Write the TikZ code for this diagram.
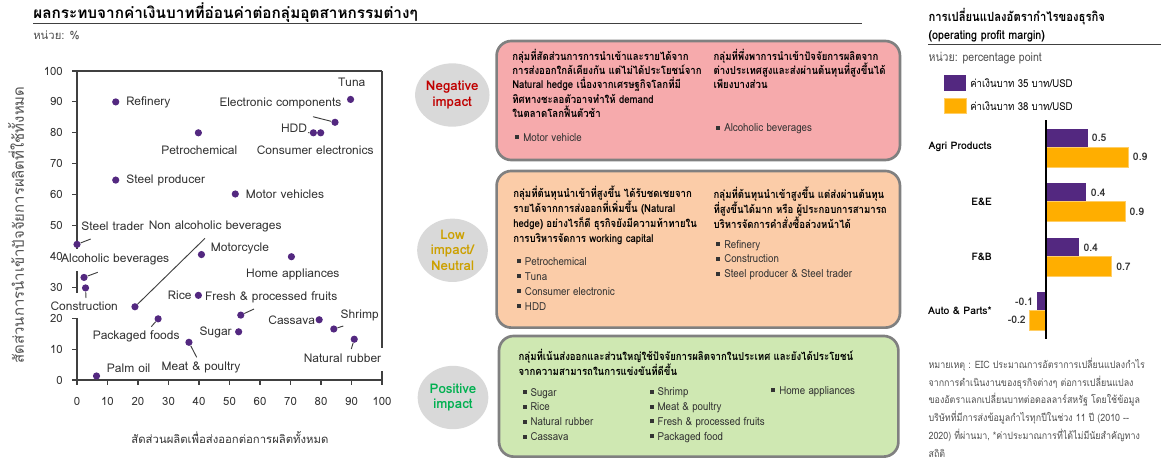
\documentclass[tikz,border=0pt]{standalone}
\usepackage{fontspec}
\setmainfont[Script=Thai]{Loma}
\newfontfamily\thc[Script=Thai,FakeStretch=0.88]{Loma}
\usetikzlibrary{shapes.geometric}
\definecolor{dotpurple}{RGB}{83,40,128}
\definecolor{barorange}{RGB}{255,174,0}
\definecolor{negfill}{RGB}{246,170,172}
\definecolor{lowfill}{RGB}{251,204,168}
\definecolor{posfill}{RGB}{207,232,178}
\definecolor{boxgray}{RGB}{128,128,128}
\definecolor{ellgray}{RGB}{217,217,217}
\definecolor{negred}{RGB}{192,0,0}
\definecolor{lowgold}{RGB}{204,160,0}
\definecolor{posgreen}{RGB}{0,176,80}
\definecolor{txtgray}{RGB}{51,51,51}
\definecolor{axgray}{RGB}{64,64,64}
\definecolor{notegray}{RGB}{80,80,80}
\newcommand{\sqb}{\raisebox{1.6pt}{\rule{3pt}{3pt}}\hspace{3pt}}
\lineskiplimit=-20pt\relax
\lineskip=0pt\relax
\begin{document}
\begin{tikzpicture}[x=0.75pt,y=-0.75pt,
  dot/.style={circle,fill=dotpurple,draw=none,inner sep=0pt,minimum size=5.4pt},
  lab/.style={inner sep=0pt,font=\fontsize{9}{10}\selectfont,text=txtgray},
  leader/.style={draw=axgray,line width=0.7pt},
  axisline/.style={draw=axgray,line width=0.8pt},
  ticklab/.style={inner sep=0pt,font=\fontsize{8.5}{10}\selectfont,text=txtgray},
  impact/.style={ellipse,fill=ellgray,draw=none,minimum width=53pt,minimum height=47.5pt,inner sep=0pt,align=center,font=\bfseries\fontsize{10}{11.5}\selectfont},
  groupbox/.style={draw=boxgray,line width=2pt,rounded corners=11pt,inner sep=0pt},
  head/.style={inner sep=0pt,anchor=west,align=left,text=black,font=\thc\bfseries\fontsize{8.2}{10.6}\selectfont},
  headw/.style={inner sep=0pt,anchor=west,align=left,text=black,font=\thc\bfseries\fontsize{8.2}{11.25}\selectfont},
  items/.style={inner sep=0pt,anchor=west,align=left,text=txtgray,font=\thc\fontsize{8.3}{11.2}\selectfont},
  rlab/.style={inner sep=0pt,font=\bfseries\fontsize{7.8}{9}\selectfont,text=black},
  vlab/.style={inner sep=0pt,font=\bfseries\fontsize{7.8}{9}\selectfont,text=txtgray}
]
\useasboundingbox (0,0) rectangle (1161,461);

% ---------- left chart ----------
\node (title) [anchor=west,inner sep=0pt,font=\bfseries\fontsize{11.5}{13}\selectfont] at (33,13) {ผลกระทบจากค่าเงินบาทที่อ่อนค่าต่อกลุ่มอุตสาหกรรมต่างๆ};
\coordinate (tlineA) at (33,23.5);
\coordinate (tlineB) at (862,23.5);
\draw[axgray,line width=0.8pt] (tlineA) -- (tlineB);
\node (unit) [anchor=west,inner sep=0pt,font=\fontsize{8.5}{10}\selectfont,text=notegray] at (33,35) {หน่วย: \%};

\begin{scope}[shift={(77,380)},x=2.2875pt,y=2.3175pt]
  \draw[axisline] (0,0) -- (100,0);
  \draw[axisline] (0,100) -- (100,100);
  \draw[axisline] (0,0) -- (0,20.1);
  \draw[axisline] (0,28.2) -- (0,35.3);
  \draw[axisline] (0,42.5) -- (0,100);
  \draw[axisline] (100,100) -- (100,10.4);
  \draw[axisline] (100,2.9) -- (100,0);
\end{scope}

\foreach \v in {0,10,20,30,50,60,70,80,90,100}{
  \draw[axisline] (72,{380-3.09*\v}) -- (77,{380-3.09*\v});
}
\foreach \v in {0,10,...,100}{
  \node[ticklab,anchor=east] (yt\v) at (63,{380-3.09*\v}) {\v};
  \draw[axisline] ({77+3.05*\v},380) -- ({77+3.05*\v},385);
  \node[ticklab] (xt\v) at ({77+3.05*\v},401.7) {\v};
}

\node[ticklab,rotate=90,text=notegray,font=\fontsize{11.2}{12}\selectfont] (ylab) at (16,225) {สัดส่วนการนำเข้าปัจจัยการผลิตที่ใช้ทั้งหมด};
\node[ticklab] (xlab) at (230,437.3) {สัดส่วนผลิตเพื่อส่งออกต่อการผลิตทั้งหมด};

% labels
\node[lab,anchor=west] (refineryL) at (126,102.7) {Refinery};
\node[lab] (petroL) at (199.3,150.7) {Petrochemical};
\node[lab] (eleccompL) at (280.5,103.3) {Electronic components};
\node[lab] (tunaL) at (351.7,82.7) {Tuna};
\node[lab] (hddL) at (294,128.3) {HDD};
\node[lab] (consL) at (315.2,150.7) {Consumer electronics};
\node[lab,anchor=west] (steelprodL) at (126,180) {Steel producer};
\node[lab,anchor=west] (motorvL) at (245.7,194) {Motor vehicles};
\node[lab,anchor=west] (steeltrL) at (81,226) {Steel trader};
\node[lab] (nonalcL) at (215.2,226) {Non alcoholic beverages};
\node[lab,anchor=west] (motorcL) at (210.7,248.7) {Motorcycle};
\node[lab] (homeL) at (292.8,274) {Home appliances};
\node[lab] (alcL) at (115.2,259.3) {Alcoholic beverages};
\node[lab] (constrL) at (84.2,306.7) {Construction};
\node[lab] (riceL) at (179.7,295.3) {Rice};
\node[lab] (freshL) at (271.2,297.3) {Fresh \& processed fruits};
\node[lab] (cassavaL) at (291.7,320) {Cassava};
\node[lab] (shrimpL) at (359.7,315) {Shrimp};
\node[lab] (packL) at (136.2,336) {Packaged foods};
\node[lab] (sugarL) at (215.7,332.3) {Sugar};
\node[lab] (meatL) at (201,367.3) {Meat \& poultry};
\node[lab] (rubberL) at (342.5,358.3) {Natural rubber};
\node[lab,anchor=west] (palmL) at (106.7,368.3) {Palm oil};

\begin{scope}[shift={(77,380)},x=2.2875pt,y=2.3175pt]
  \foreach \nm/\xx/\yy in {refinery/12.7/90, petro/39.8/80, hdd/77.5/80, cons/79.9/80,
     eleccomp/84.6/83.4, tuna/89.7/90.8, steelprod/12.7/64.7, motorv/51.9/60.2,
     steeltr/0/43.9, alc/2.3/33.2, constr/2.8/29.8, nonalc/19.0/23.7, motorc/40.8/40.6,
     home/70.3/39.9, rice/39.8/27.4, fresh/53.7/21, pack/26.6/19.8, sugar/53.0/15.6,
     meat/36.7/12.2, cassava/79.4/19.5, shrimp/84.2/16.5, rubber/90.9/13.2, palm/6.4/1.3}{
    \node[dot] (\nm) at (\xx,\yy) {};
  }
\end{scope}

% leaders
\coordinate (eleccompT) at (313,116.7);
\coordinate (hddT) at (308,132.7);
\coordinate (steeltrT) at (90.7,239);
\coordinate (nonalcT) at (205,238.3);
\coordinate (alcT) at (97.7,272.3);
\coordinate (constrT) at (86,298);
\coordinate (freshT) at (254,309);
\coordinate (shrimpT) at (343.3,326);
\coordinate (packT) at (151.3,326.7);
\coordinate (meatT) at (196.7,357.3);
\coordinate (rubberT) at (351.3,349);
\foreach \nm in {eleccomp,hdd,steeltr,nonalc,alc,constr,fresh,shrimp,pack,meat,rubber}{
  \draw[leader] (\nm) -- (\nm T);
}

% ---------- middle ----------
\node[impact,text=negred] (negE) at (452.3,95) {Negative\\impact};
\node[impact,text=lowgold] (lowE) at (452.5,250.3) {Low\\impact/\\Neutral};
\node[impact,text=posgreen] (posE) at (453,397.5) {Positive\\impact};

\node[groupbox,fill=negfill,minimum width=302.5pt,minimum height=89.25pt] (negB) at (698.3,100.5) {};
\node[groupbox,fill=lowfill,minimum width=302.5pt,minimum height=117.5pt] (lowB) at (698.3,249.3) {};
\node[groupbox,fill=posfill,minimum width=299.5pt,minimum height=90.5pt] (posB) at (698.7,396.3) {};

\node[head] (negH1) at (512,83.3) {กลุ่มที่สัดส่วนการการนำเข้าและรายได้จาก\\การส่งออกใกล้เคียงกัน แต่ไม่ได้ประโยชน์จาก\\Natural hedge เนื่องจากเศรษฐกิจโลกที่มี\\ทิศทางชะลอตัวอาจทำให้ demand\\ในตลาดโลกฟื้นตัวช้า};
\node[items] (negI1) at (515,137.3) {\sqb Motor vehicle};
\node[head] (negH2) at (713.3,69) {กลุ่มที่พึ่งพาการนำเข้าปัจจัยการผลิตจาก\\ต่างประเทศสูงและส่งผ่านต้นทุนที่สูงขึ้นได้\\เพียงบางส่วน};
\node[items] (negI2) at (716,129) {\sqb Alcoholic beverages};

\node[headw] (lowH1) at (513,215.8) {กลุ่มที่ต้นทุนนำเข้าที่สูงขึ้น ได้รับชดเชยจาก\\รายได้จากการส่งออกที่เพิ่มขึ้น (Natural\\hedge) อย่างไรก็ดี ธุรกิจยังมีความท้าทายใน\\การบริหารจัดการ working capital};
\node[items] (lowI1) at (516.7,283.7) {\sqb Petrochemical\\\sqb Tuna\\\sqb Consumer electronic\\\sqb HDD};
\node[headw] (lowH2) at (713.3,208) {กลุ่มที่ต้นทุนนำเข้าสูงขึ้น แต่ส่งผ่านต้นทุน\\ที่สูงขึ้นได้มาก หรือ ผู้ประกอบการสามารถ\\บริหารจัดการคำสั่งซื้อล่วงหน้าได้};
\node[items] (lowI2) at (716,260) {\sqb Refinery\\\sqb Construction\\\sqb Steel producer \& Steel trader};

\node[headw] (posH) at (518.3,362.5) {กลุ่มที่เน้นส่งออกและส่วนใหญ่ใช้ปัจจัยการผลิตจากในประเทศ และยังได้ประโยชน์\\จากความสามารถในการแข่งขันที่ดีขึ้น};
\node[items] (posI1) at (522.3,414.5) {\sqb Sugar\\\sqb Rice\\\sqb Natural rubber\\\sqb Cassava};
\node[items] (posI2) at (649.3,415.3) {\sqb Shrimp\\\sqb Meat \& poultry\\\sqb Fresh \& processed fruits\\\sqb Packaged food};
\node[items] (posI3) at (771,391.7) {\sqb Home appliances};

% ---------- right panel ----------
\node (rtitle1) [anchor=west,inner sep=0pt,font=\thc\bfseries\fontsize{9.6}{11}\selectfont] at (928.3,16.7) {การเปลี่ยนแปลงอัตรากำไรของธุรกิจ};
\node (rtitle2) [anchor=west,inner sep=0pt,font=\thc\bfseries\fontsize{9.2}{10}\selectfont] at (928.3,36) {(operating profit margin)};
\coordinate (rlineA) at (928,44.5);
\coordinate (rlineB) at (1161,44.5);
\draw[axgray,line width=0.8pt] (rlineA) -- (rlineB);
\node (runit) [anchor=west,inner sep=0pt,font=\thc\fontsize{9}{10}\selectfont,text=notegray] at (928.3,57.7) {หน่วย: percentage point};

\node[fill=dotpurple,inner sep=0pt,minimum width=16.3pt,minimum height=11.8pt] (leg1) at (955.2,82.8) {};
\node[fill=barorange,draw=barorange!60!white,line width=0.5pt,inner sep=0pt,minimum width=16.3pt,minimum height=11.8pt] (leg2) at (955.2,105.8) {};
\node[anchor=west,inner sep=0pt,font=\thc\fontsize{8.2}{9}\selectfont] (leg1L) at (970,82.7) {ค่าเงินบาท 35 บาท/USD};
\node[anchor=west,inner sep=0pt,font=\thc\fontsize{8.2}{9}\selectfont] (leg2L) at (970,106) {ค่าเงินบาท 38 บาท/USD};

\foreach \c/\p/\o in {147.4/1088.3/1128.3, 201.7/1086/1125.7, 256.2/1079.3/1111.7, 310.8/1037.3/1029.3}{
  \fill[dotpurple] (1046,{\c-18.7}) rectangle (\p,\c);
  \fill[barorange,draw=barorange!60!white,line width=0.5pt] (1046,\c) rectangle (\o,{\c+20});
}
\coordinate (baxA) at (1046,120);
\coordinate (baxB) at (1046,339);
\draw[black,line width=0.8pt] (baxA) -- (baxB);

\node[rlab,anchor=east] (catAgri) at (992,147.3) {Agri Products};
\node[rlab,anchor=east] (catEE) at (992,201.7) {E\&E};
\node[rlab,anchor=east] (catFB) at (992,257.3) {F\&B};
\node[rlab,anchor=east] (catAuto) at (992,311) {Auto \& Parts*};

\node[vlab,anchor=west] (v1) at (1091.7,137.3) {0.5};
\node[vlab,anchor=west] (v2) at (1132.7,156.7) {0.9};
\node[vlab,anchor=west] (v3) at (1090.7,192.7) {0.4};
\node[vlab,anchor=west] (v4) at (1129.3,211.7) {0.9};
\node[vlab,anchor=west] (v5) at (1083.3,247.7) {0.4};
\node[vlab,anchor=west] (v6) at (1116,266.7) {0.7};
\node[vlab,anchor=east] (v7) at (1033.3,301.7) {-0.1};
\node[vlab,anchor=east] (v8) at (1026,320) {-0.2};

\node[anchor=west,inner sep=0pt,align=left,text=notegray,font=\thc\fontsize{7.6}{13.3}\selectfont] (note) at (928.3,407.5) {หมายเหตุ : EIC ประมาณการอัตราการเปลี่ยนแปลงกำไร\\จากการดำเนินงานของธุรกิจต่างๆ ต่อการเปลี่ยนแปลง\\ของอัตราแลกเปลี่ยนบาทต่อดอลลาร์สหรัฐ โดยใช้ข้อมูล\\บริษัทที่มีการส่งข้อมูลกำไรทุกปีในช่วง 11 ปี (2010 --\\2020) ที่ผ่านมา, *ค่าประมาณการที่ได้ไม่มีนัยสำคัญทาง\\สถิติ};
\end{tikzpicture}
\end{document}
